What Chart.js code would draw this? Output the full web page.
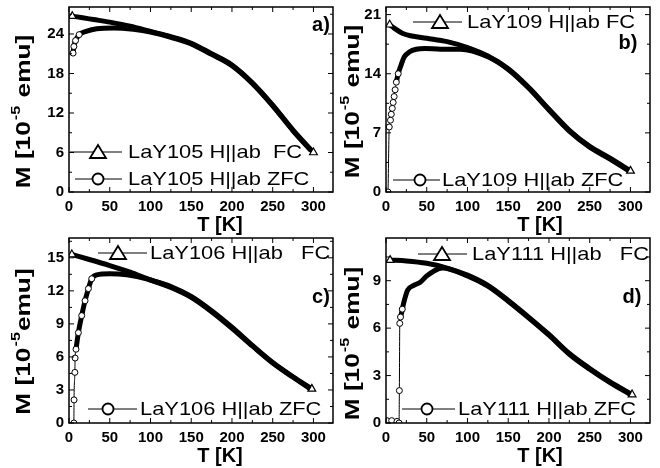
<!DOCTYPE html>
<html>
<head>
<meta charset="utf-8">
<script src="https://cdn.jsdelivr.net/npm/chart.js@4.4.1/dist/chart.umd.min.js"></script>
<style>
  html, body { margin: 0; padding: 0; background: #fff; }
  #fig { position: relative; width: 660px; height: 468px; overflow: hidden; background: #fff; }
  #fig canvas { position: absolute; }
</style>
</head>
<body>
<div id="fig">
  <canvas id="panelA" width="340" height="240" style="left:0;top:0"></canvas>
  <canvas id="panelB" width="330" height="240" style="left:330px;top:0"></canvas>
  <canvas id="panelC" width="340" height="238" style="left:0;top:230px"></canvas>
  <canvas id="panelD" width="330" height="238" style="left:330px;top:230px"></canvas>
</div>
<script>
const FONT = '"Liberation Sans", Arial, Helvetica, sans-serif';

// temperature ticks, same on all four panels
const tempTicks = [0, 50, 100, 150, 200, 250, 300];

// a) LaY105
const tempA_FC = [4, 15, 30, 50, 75, 100, 125, 150, 175, 200, 225, 250, 275, 300];
const magA_FC = [26.7, 26.5, 26.2, 25.8, 25.2, 24.4, 23.6, 22.6, 21.0, 19.3, 16.6, 13.2, 9.4, 6.0];
const tempA_ZFC = [5, 6, 8, 12.5, 21, 34, 55, 79, 100, 125, 150, 175, 200, 225, 250, 275, 297];
const magA_ZFC = [21.1, 22.1, 23.0, 23.9, 24.4, 24.8, 24.9, 24.7, 24.3, 23.5, 22.5, 20.9, 19.2, 16.5, 13.1, 9.3, 6.3];
const yTicksA = [0, 6, 12, 18, 24];

// b) LaY109
const tempB_FC = [4.5, 10, 20, 30, 50, 75, 100, 125, 150, 175, 200, 225, 250, 275, 300];
const magB_FC = [19.8, 19.4, 18.8, 18.5, 18.2, 17.8, 17.1, 16.1, 14.6, 12.4, 9.8, 7.3, 5.4, 4.0, 2.5];
const tempB_ZFC = [2.5, 4, 5.5, 6.5, 7.7, 8.8, 10, 11.2, 12.7, 15, 18.4, 22.5, 29, 37, 48, 67, 91, 125, 150, 175, 200, 225, 250, 275, 298];
const magB_ZFC = [0, 7.7, 8.5, 9.2, 9.9, 10.6, 11.3, 12.1, 13.0, 14.0, 15.0, 16.0, 16.6, 16.9, 17.0, 16.9, 16.9, 16.0, 14.5, 12.3, 9.7, 7.2, 5.3, 3.9, 2.5];
const yTicksB = [0, 7, 14, 21];

// c) LaY106
const tempC_FC = [3.5, 25, 50, 75, 100, 125, 150, 175, 200, 225, 250, 275, 298];
const magC_FC = [15.3, 14.85, 14.3, 13.7, 13.0, 12.4, 11.5, 10.2, 8.7, 7.05, 5.5, 4.2, 3.1];
const tempC_ZFC = [6, 6.2, 7.2, 7.5, 8.6, 11.5, 15.6, 19.7, 23.8, 27.9, 34, 50, 71, 95, 125, 150, 175, 200, 225, 250, 275, 296];
const magC_ZFC = [0, 2.1, 4.6, 5.9, 6.7, 8.2, 9.75, 11.1, 12.2, 13.1, 13.45, 13.55, 13.45, 13.1, 12.3, 11.4, 10.1, 8.6, 7.0, 5.45, 4.15, 3.1];
const yTicksC = [0, 3, 6, 9, 12, 15];

// d) LaY111
const tempD_FC = [5, 25, 50, 75, 100, 125, 150, 175, 200, 225, 250, 275, 302];
const magD_FC = [10.3, 10.25, 10.1, 9.8, 9.35, 8.7, 7.75, 6.7, 5.6, 4.4, 3.45, 2.6, 1.8];
const tempD_ZFC = [1, 7, 13.5, 16, 16.4, 16.9, 17.8, 20, 22.5, 26.6, 34, 42, 50, 58.5, 69, 100, 125, 150, 175, 200, 225, 250, 275, 300];
const magD_ZFC = [0.15, 0.15, 0.1, 0, 2.05, 6.3, 6.7, 7.2, 7.75, 8.4, 8.7, 8.9, 9.3, 9.6, 9.8, 9.3, 8.65, 7.7, 6.65, 5.55, 4.35, 3.4, 2.55, 1.8];
const yTicksD = [0, 3, 6, 9];

// text drawn wider than tall, like the original figure's lettering
function drawWide(ctx, text, x, y, sx) {
  ctx.save();
  ctx.translate(x, y);
  ctx.scale(sx, 1);
  ctx.fillText(text, 0, 0);
  ctx.restore();
  return x + ctx.measureText(text).width * sx;
}

function minorTicks(ticks, max) {
  const step = ticks[1] - ticks[0];
  const out = [];
  for (let v = ticks[0] + step / 2; v < max; v += step) out.push(v);
  return out;
}

function drawMarker(ctx, kind, x, y) {
  ctx.beginPath();
  if (kind === 'triangle') {
    ctx.moveTo(x, y - 7);
    ctx.lineTo(x + 8, y + 6);
    ctx.lineTo(x - 8, y + 6);
    ctx.closePath();
  } else {
    ctx.arc(x, y, 5.5, 0, Math.PI * 2);
  }
  ctx.fillStyle = '#fff';
  ctx.fill();
  ctx.lineWidth = 1.8;
  ctx.stroke();
  ctx.fillStyle = '#000';
}

// frame, inward ticks, legends, titles and the panel letter
const decor = {
  id: 'decor',
  afterDatasetsDraw(chart, args, o) {
    const { ctx, chartArea: a } = chart;
    const xs = chart.scales.x, ys = chart.scales.y;
    ctx.save();
    ctx.strokeStyle = '#000';
    ctx.fillStyle = '#000';

    ctx.lineWidth = 1;
    ctx.beginPath();
    const tickX = (v, len) => {
      const p = xs.getPixelForValue(v);
      ctx.moveTo(p, a.bottom); ctx.lineTo(p, a.bottom - len);
      ctx.moveTo(p, a.top); ctx.lineTo(p, a.top + len);
    };
    const tickY = (v, len) => {
      const p = ys.getPixelForValue(v);
      ctx.moveTo(a.left, p); ctx.lineTo(a.left + len, p);
      ctx.moveTo(a.right, p); ctx.lineTo(a.right - len, p);
    };
    tempTicks.forEach(v => tickX(v, 5));
    minorTicks(tempTicks, xs.max).forEach(v => tickX(v, 3));
    o.yTicks.forEach(v => tickY(v, 5));
    minorTicks(o.yTicks, ys.max).forEach(v => tickY(v, 3));
    ctx.stroke();

    ctx.lineWidth = 1.5;
    ctx.strokeRect(a.left, a.top, a.right - a.left, a.bottom - a.top);

    o.legend.forEach(item => {
      ctx.lineWidth = 1;
      ctx.beginPath();
      ctx.moveTo(item.x1, item.y);
      ctx.lineTo(item.x2, item.y);
      ctx.stroke();
      drawMarker(ctx, item.marker, item.mx, item.y);
      ctx.font = `19px ${FONT}`;
      ctx.textAlign = 'left';
      ctx.textBaseline = 'middle';
      drawWide(ctx, item.text, item.tx, item.y + 1, 1.15);
    });

    ctx.font = `bold 20px ${FONT}`;
    ctx.textAlign = 'center';
    ctx.textBaseline = 'middle';
    ctx.fillText(o.tag.text, o.tag.x, o.tag.y);
    ctx.fillText('T [K]', o.xTitle.x, o.xTitle.y);

    // rotated M label with superscript exponent
    const big = `bold 21px ${FONT}`, small = `bold 13px ${FONT}`, sx = 1.25, gap = 1;
    ctx.translate(o.yTitle.x, o.yTitle.y);
    ctx.rotate(-Math.PI / 2);
    ctx.textAlign = 'left';
    let total = 0;
    o.yTitle.parts.forEach(p => {
      ctx.font = p.sup ? small : big;
      total += ctx.measureText(p.text).width * sx + gap;
    });
    let x = -total / 2;
    o.yTitle.parts.forEach(p => {
      ctx.font = p.sup ? small : big;
      x = drawWide(ctx, p.text, x, p.sup ? -8 : 0, sx) + gap;
    });
    ctx.restore();
  }
};

function makePanel(id, box, fc, zfc, yTicks, yMax, deco) {
  const pts = (t, m) => t.map((v, i) => ({ x: v, y: m[i] }));
  const tickFont = { family: FONT, size: 15, weight: 'bold' };
  const zeroPad = s => { s.paddingLeft = s.paddingRight = s.paddingTop = s.paddingBottom = 0; };
  return new Chart(document.getElementById(id), {
    type: 'line',
    data: {
      datasets: [
        {
          label: 'ZFC',
          data: pts(zfc.t, zfc.m),
          borderColor: '#000',
          borderWidth: 5,
          cubicInterpolationMode: 'monotone',
          segment: { borderWidth: c => (c.p1.parsed.x <= zfc.thinUntil ? 1 : 5) },
          pointStyle: 'circle',
          pointRadius: c => (c.parsed && c.parsed.x <= zfc.markUntil ? 3 : 0),
          pointBackgroundColor: '#fff',
          pointBorderColor: '#000',
          pointBorderWidth: 1,
          fill: false
        },
        {
          label: 'FC',
          data: pts(fc.t, fc.m),
          borderColor: '#000',
          borderWidth: 5,
          cubicInterpolationMode: 'monotone',
          pointStyle: 'triangle',
          pointRadius: c => (c.dataIndex === 0 || c.dataIndex === fc.t.length - 1 ? 4.5 : 0),
          pointBackgroundColor: '#fff',
          pointBorderColor: '#000',
          pointBorderWidth: 1.2,
          fill: false
        }
      ]
    },
    options: {
      responsive: false,
      animation: false,
      devicePixelRatio: 1,
      layout: { padding: { left: 0, top: box.t, right: box.w - box.r, bottom: 0 } },
      plugins: {
        legend: { display: false },
        tooltip: { enabled: false },
        decor: Object.assign({ yTicks: yTicks }, deco)
      },
      scales: {
        x: {
          type: 'linear',
          min: 0,
          max: 324,
          afterBuildTicks: s => { s.ticks = tempTicks.map(v => ({ value: v })); },
          afterFit: s => { s.height = box.h - box.b; zeroPad(s); },
          grid: { display: false, drawTicks: false },
          border: { display: false },
          ticks: { autoSkip: false, maxRotation: 0, padding: 6, color: '#000', font: tickFont }
        },
        y: {
          type: 'linear',
          min: 0,
          max: yMax,
          afterBuildTicks: s => { s.ticks = yTicks.map(v => ({ value: v })); },
          afterFit: s => { s.width = box.l; zeroPad(s); },
          grid: { display: false, drawTicks: false },
          border: { display: false },
          ticks: { autoSkip: false, padding: 5, color: '#000', font: tickFont }
        }
      }
    },
    plugins: [decor]
  });
}

const labelEmu = [{ text: 'M [10' }, { text: '-5', sup: true }, { text: ' emu]' }];
const labelEmuTight = [{ text: 'M [10' }, { text: '-5', sup: true }, { text: 'emu]' }];

makePanel('panelA', { w: 340, h: 240, l: 69, t: 7, r: 333, b: 192 },
  { t: tempA_FC, m: magA_FC },
  { t: tempA_ZFC, m: magA_ZFC, thinUntil: 0, markUntil: 13 },
  yTicksA, 28.1, {
    tag: { text: 'a)', x: 321, y: 25 },
    xTitle: { x: 220, y: 225 },
    yTitle: { x: 24, y: 111, parts: labelEmu },
    legend: [
      { marker: 'triangle', x1: 70, x2: 122, mx: 98, y: 152, tx: 128, text: 'LaY105 H||ab  FC' },
      { marker: 'circle', x1: 75, x2: 122, mx: 98, y: 179, tx: 128, text: 'LaY105 H||ab ZFC' }
    ]
  });

makePanel('panelB', { w: 330, h: 240, l: 56, t: 7, r: 320, b: 192 },
  { t: tempB_FC, m: magB_FC },
  { t: tempB_ZFC, m: magB_ZFC, thinUntil: 13, markUntil: 16 },
  yTicksB, 21.9, {
    tag: { text: 'b)', x: 298, y: 43 },
    xTitle: { x: 210, y: 225 },
    yTitle: { x: 23, y: 101, parts: labelEmu },
    legend: [
      { marker: 'triangle', x1: 83, x2: 132, mx: 110, y: 22, tx: 137, text: 'LaY109 H||ab FC' },
      { marker: 'circle', x1: 63, x2: 110, mx: 90, y: 180, tx: 112, text: 'LaY109 H||ab ZFC' }
    ]
  });

makePanel('panelC', { w: 340, h: 238, l: 69, t: 8, r: 333, b: 193 },
  { t: tempC_FC, m: magC_FC },
  { t: tempC_ZFC, m: magC_ZFC, thinUntil: 8.7, markUntil: 30 },
  yTicksC, 16.8, {
    tag: { text: 'c)', x: 321, y: 67 },
    xTitle: { x: 220, y: 226 },
    yTitle: { x: 24, y: 111, parts: labelEmuTight },
    legend: [
      { marker: 'triangle', x1: 98, x2: 147, mx: 118, y: 23, tx: 150, text: 'LaY106 H||ab   FC' },
      { marker: 'circle', x1: 88, x2: 137, mx: 108, y: 179, tx: 140, text: 'LaY106 H||ab ZFC' }
    ]
  });

makePanel('panelD', { w: 330, h: 238, l: 56, t: 8, r: 320, b: 193 },
  { t: tempD_FC, m: magD_FC },
  { t: tempD_ZFC, m: magD_ZFC, thinUntil: 18.5, markUntil: 21 },
  yTicksD, 11.7, {
    tag: { text: 'd)', x: 302, y: 67 },
    xTitle: { x: 210, y: 226 },
    yTitle: { x: 23, y: 113, parts: labelEmu },
    legend: [
      { marker: 'triangle', x1: 88, x2: 137, mx: 112, y: 24, tx: 142, text: 'LaY111 H||ab   FC' },
      { marker: 'circle', x1: 72, x2: 125, mx: 97, y: 179, tx: 128, text: 'LaY111 H||ab ZFC' }
    ]
  });
</script>
</body>
</html>
